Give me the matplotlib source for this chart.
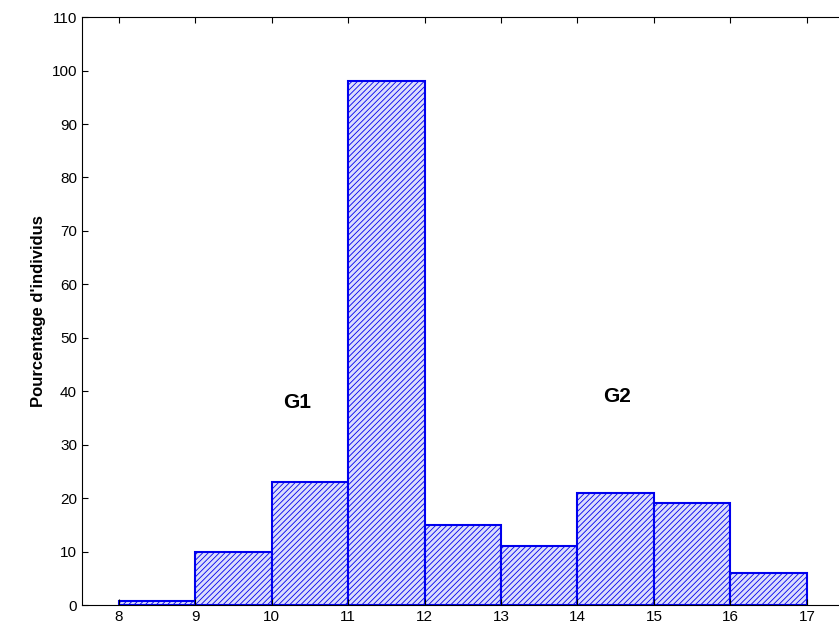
import matplotlib
matplotlib.use('Agg')
import matplotlib.pyplot as plt

plt.rcParams['font.family'] = ['Liberation Sans', 'DejaVu Sans']
plt.rcParams['hatch.color'] = '#4a4aea'
plt.rcParams['hatch.linewidth'] = 0.6

# Données de l'histogramme
bin_left = [8, 9, 10, 11, 12, 13, 14, 15, 16]
pourcentages = [0.8, 10, 23, 98, 15, 11, 21, 19, 6]
xticks = [8, 9, 10, 11, 12, 13, 14, 15, 16, 17]
yticks = [0, 10, 20, 30, 40, 50, 60, 70, 80, 90, 100, 110]
groupes = ['G1', 'G2']
groupe_x = [10.34, 14.52]
groupe_y = [37.8, 39.1]

fig = plt.figure(figsize=(8.39, 6.34), dpi=100)
ax = fig.add_axes([0.0977, 0.0457, 0.9023, 0.9273])

ax.bar(bin_left, pourcentages, width=1.0, align='edge', facecolor='#dcdefc',
       edgecolor='#0000ee', linewidth=1.5, hatch='//////')

for g, gx, gy in zip(groupes, groupe_x, groupe_y):
    ax.text(gx, gy, g, fontsize=15, fontweight='bold', ha='center', va='center')

ax.set_xlim(7.52, 17.42)
ax.set_ylim(0, 110)
ax.set_xticks(xticks)
ax.set_yticks(yticks)
ax.tick_params(direction='in', top=True, right=False, labelsize=11, length=4)
ax.spines['right'].set_visible(False)
ax.set_ylabel("Pourcentage d'individus", fontsize=12, fontweight='bold')

fig.savefig('out.png', dpi=100)
